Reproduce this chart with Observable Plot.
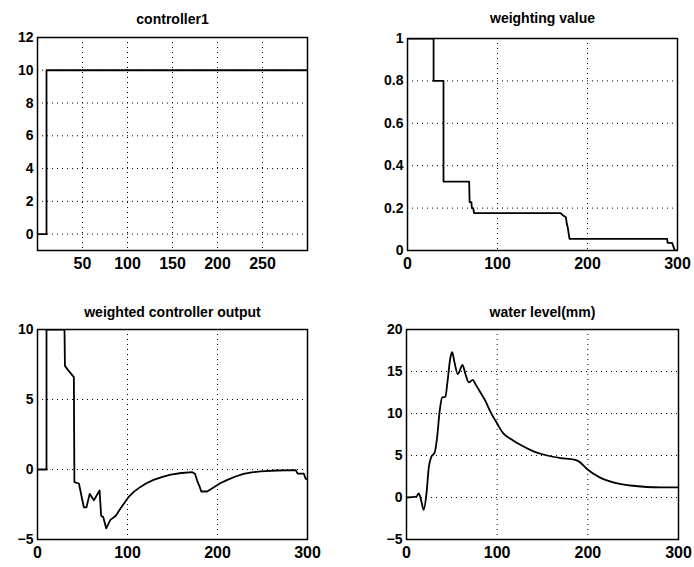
<!DOCTYPE html>
<html>
<head>
<meta charset="utf-8">
<script src="https://cdn.jsdelivr.net/npm/d3@7"></script>
<script src="https://cdn.jsdelivr.net/npm/@observablehq/plot@0.6"></script>
<style>
  html, body { margin: 0; padding: 0; background: #fff; }
  #wrap { position: relative; width: 694px; height: 567px; overflow: hidden; background: #fff; }
  #wrap > div { position: absolute; }
  svg { overflow: visible; }
</style>
</head>
<body>
<div id="wrap">
  <div id="p1" style="left:0px;top:0px"></div>
  <div id="p2" style="left:347px;top:0px"></div>
  <div id="p3" style="left:0px;top:280px"></div>
  <div id="p4" style="left:347px;top:280px"></div>
</div>
<script>
// ---- Panel titles ----
const titles = ["controller1", "weighting value", "weighted controller output", "water level(mm)"];

// ---- controller1 ----
const ctrlT = [0, 10, 10, 300];
const ctrlV = [0, 0, 10, 10];
const ctrlXTicks = [50, 100, 150, 200, 250];
const ctrlYTicks = [0, 2, 4, 6, 8, 10, 12];

// ---- weighting value ----
const weightT = [0, 29, 29, 40, 40, 68.5, 69, 71, 71.5, 73, 74, 170, 173, 176, 177, 178, 180, 288.5, 289, 294, 297, 300];
const weightV = [1, 1, 0.8, 0.8, 0.325, 0.325, 0.228, 0.228, 0.2, 0.2, 0.176, 0.176, 0.165, 0.157, 0.126, 0.11, 0.055, 0.055, 0.036, 0.036, 0, 0];
const weightXTicks = [0, 100, 200, 300];
const weightYTicks = [0, 0.2, 0.4, 0.6, 0.8, 1];

// ---- weighted controller output ----
const outT = [0, 10, 10, 30, 30.5, 34, 40.4, 41, 46, 51.5, 54.4, 58, 62.6, 69, 70.7, 73, 76.3, 81, 87, 92, 101, 107, 114, 121, 129, 138, 148, 160, 172, 175, 177.4, 180, 182, 188.5, 196, 203, 211, 220, 229, 238, 248, 266, 287, 289, 296, 298, 300];
const outV = [0, 0, 10, 10, 7.4, 7.1, 6.6, -0.9, -1.0, -2.7, -2.7, -1.74, -2.2, -1.5, -3.3, -3.4, -4.2, -3.6, -3.3, -2.8, -1.98, -1.6, -1.26, -0.98, -0.74, -0.55, -0.36, -0.25, -0.19, -0.3, -0.79, -1.2, -1.57, -1.57, -1.26, -0.98, -0.74, -0.5, -0.31, -0.2, -0.14, -0.07, -0.05, -0.3, -0.3, -0.67, -0.67];
const outXTicks = [0, 100, 200, 300];
const outYTicks = [-5, 0, 5, 10];

// ---- water level(mm) ----
const levelT = [0, 11, 13.6, 16.2, 19, 22, 24.6, 27.2, 31.2, 33.8, 36.7, 39.3, 43, 44.9, 48.5, 50.4, 52.9, 56.6, 58.8, 61.7, 65, 68.7, 73.1, 76, 81.6, 87, 92.6, 100, 107, 114.7, 125, 140, 155, 170, 185, 190, 199, 213, 228, 247, 265, 280, 300];
const levelV = [0, 0.1, 0.5, -0.36, -1.47, 0.44, 3.6, 4.8, 5.4, 7.2, 10.4, 11.9, 12.0, 13.5, 16.7, 17.3, 16.1, 14.7, 15.1, 15.8, 14.7, 13.7, 14.0, 13.5, 12.5, 11.5, 10.2, 8.8, 7.6, 7.0, 6.3, 5.5, 5.0, 4.7, 4.5, 4.3, 3.4, 2.4, 1.8, 1.43, 1.25, 1.2, 1.2];
const levelXTicks = [0, 100, 200, 300];
const levelYTicks = [-5, 0, 5, 10, 15, 20];

const fmt = d => String(+(+d).toFixed(2)).replace("-", "\u2212");

function panel({el, title, t, v, xDomain, yDomain, xTicks, yTicks, gridX, gridY, margins, height, titleDy, curve}) {
  const data = t.map((x, i) => ({x, y: v[i]}));
  const chart = Plot.plot({
    width: 347,
    height,
    marginLeft: margins[0], marginRight: margins[1], marginTop: margins[2], marginBottom: margins[3],
    style: {fontFamily: "'Liberation Sans', Arial, Helvetica, sans-serif", fontSize: "14px", fontWeight: "bold", color: "#000", background: "transparent"},
    x: {domain: xDomain, nice: false},
    y: {domain: yDomain, nice: false},
    marks: [
      Plot.ruleX(gridX, {stroke: "#000", strokeWidth: 1, strokeDasharray: "1,4"}),
      Plot.ruleY(gridY, {stroke: "#000", strokeWidth: 1, strokeDasharray: "1,4"}),
      Plot.axisX({ticks: xTicks, tickSize: 0, tickPadding: 7, tickFormat: fmt, label: null, fontSize: 16, fontWeight: "bold"}),
      Plot.axisY({ticks: yTicks, tickSize: 0, tickPadding: 4, tickFormat: fmt, label: null, fontSize: 14, fontWeight: "bold"}),
      Plot.line(data, {x: "x", y: "y", stroke: "#000", strokeWidth: 1.8, curve: curve || "linear", clip: true}),
      Plot.frame({stroke: "#000", strokeWidth: 1.5}),
      Plot.text([title], {frameAnchor: "top", dy: titleDy, text: d => d, fontSize: 14, fontWeight: "bold", fill: "#000", lineAnchor: "middle"})
    ]
  });
  document.getElementById(el).appendChild(chart);
}

panel({el: "p1", title: titles[0], t: ctrlT, v: ctrlV, xDomain: [0, 300], yDomain: [-1, 12],
  xTicks: ctrlXTicks, yTicks: ctrlYTicks, gridX: ctrlXTicks, gridY: [0, 2, 4, 6, 8, 10],
  margins: [37, 40, 37, 30], height: 280, titleDy: -18});

panel({el: "p2", title: titles[1], t: weightT, v: weightV, xDomain: [0, 300], yDomain: [0, 1],
  xTicks: weightXTicks, yTicks: weightYTicks, gridX: [100, 200], gridY: [0.2, 0.4, 0.6, 0.8],
  margins: [60, 17, 38, 30], height: 280, titleDy: -20});

panel({el: "p3", title: titles[2], t: outT, v: outV, xDomain: [0, 300], yDomain: [-5, 10],
  xTicks: outXTicks, yTicks: outYTicks, gridX: [100, 200], gridY: [0, 5],
  margins: [37, 40, 49, 28], height: 287, titleDy: -17});

panel({el: "p4", title: titles[3], t: levelT, v: levelV, xDomain: [0, 300], yDomain: [-5, 20],
  xTicks: levelXTicks, yTicks: levelYTicks, gridX: [100, 200], gridY: [0, 5, 10, 15],
  margins: [59, 16, 49, 28], height: 287, titleDy: -17, curve: "monotone-x"});
</script>
</body>
</html>
